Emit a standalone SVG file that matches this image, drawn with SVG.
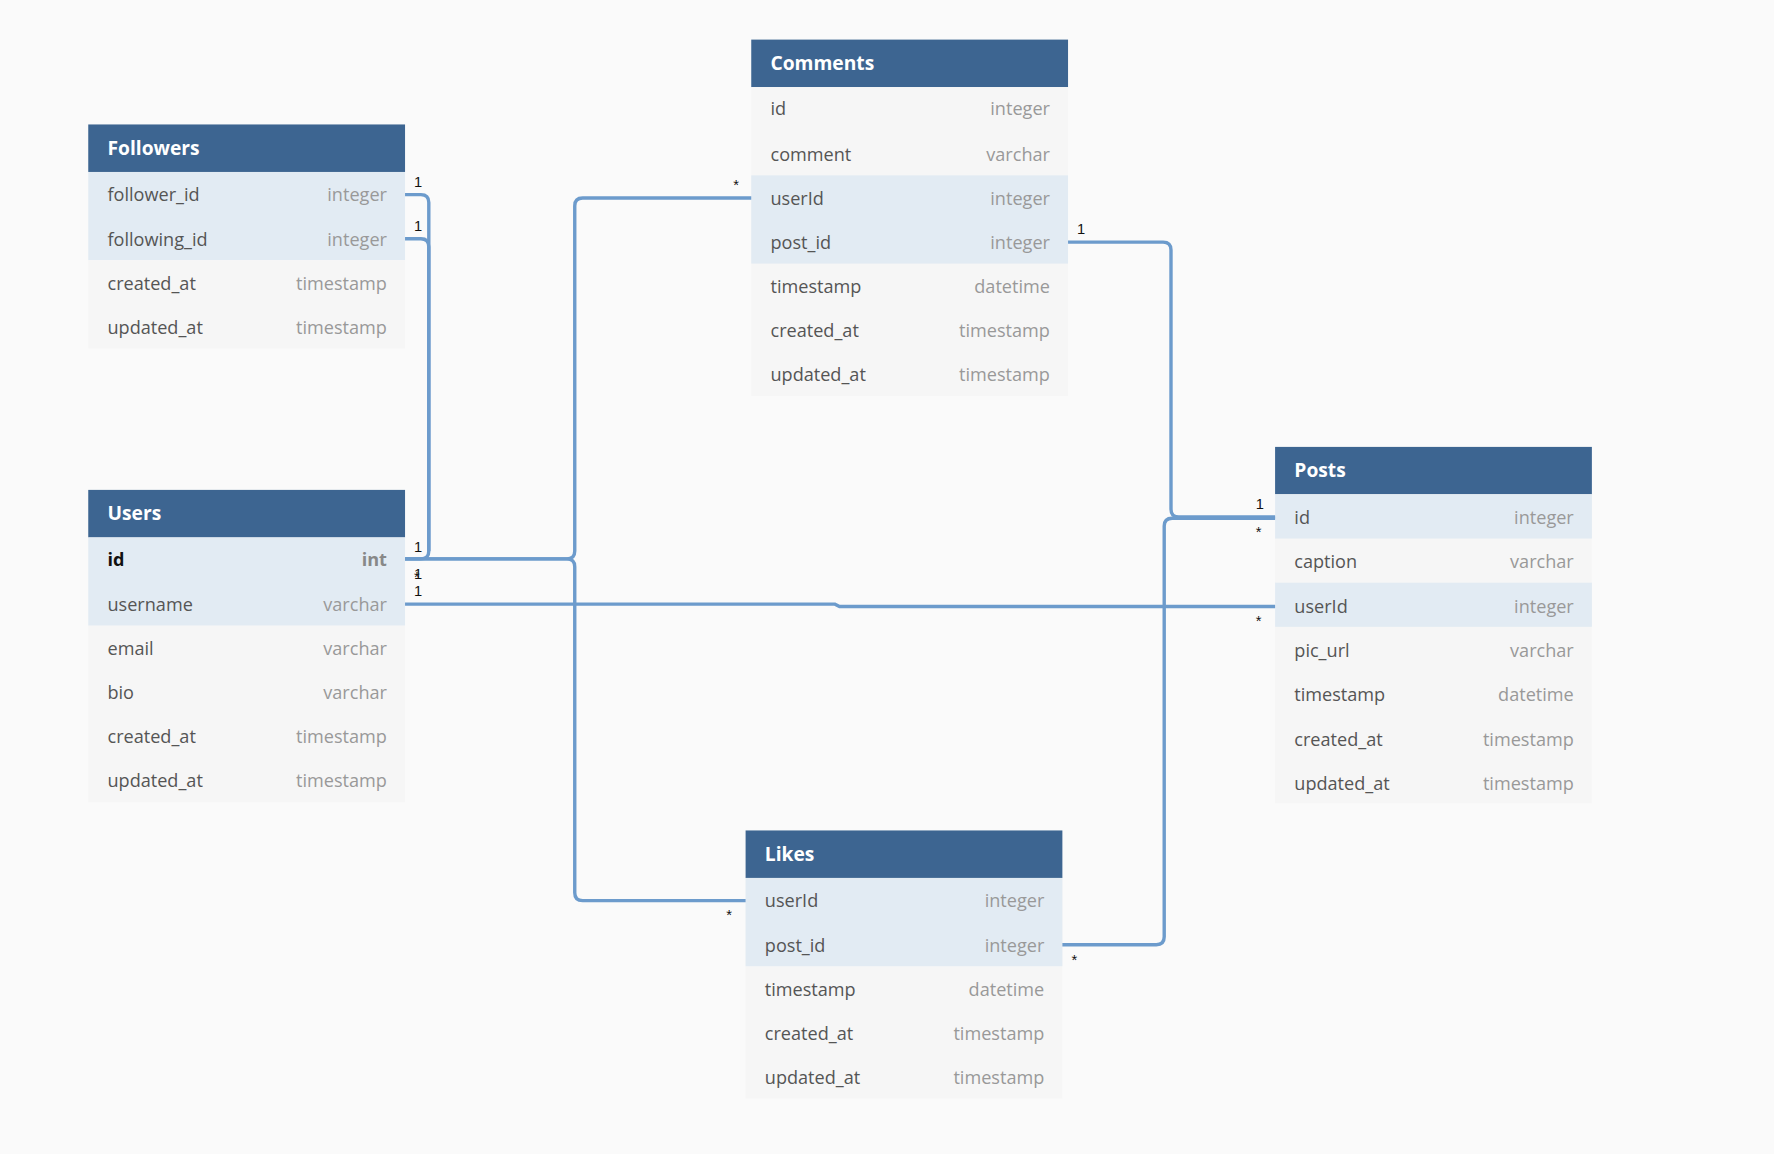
<svg xmlns="http://www.w3.org/2000/svg" width="1774" height="1154" viewBox="0 0 1774 1154">
<style>
.bg{fill:#fafafa}
.hd{fill:#3d6591}
.ht{fill:#fff;font:bold 17px "Open Sans",sans-serif}
.r{fill:#f6f6f6}
.h{fill:#e2ebf3}
.n{fill:#555;font:16px "Open Sans",sans-serif}
.t{fill:#999;font:16px "Open Sans",sans-serif;text-anchor:end}
.k{fill:#111;font:bold 16px "Open Sans",sans-serif}
.kt{fill:#888;font:bold 16px "Open Sans",sans-serif;text-anchor:end}
.c{fill:none;stroke:#6c9bcc;stroke-width:3}
.l{fill:#111;font:13px "Liberation Sans",sans-serif}
</style>
<rect class="bg" width="1774" height="1154"/>
<g transform="scale(1.1314)">
<g id="followers">
<rect class="hd" x="78" y="110" width="280" height="42"/><text class="ht" x="95" y="137">Followers</text>
<rect class="h" x="78" y="152" width="280" height="78"/><rect class="r" x="78" y="230" width="280" height="78"/>
<text class="n" x="95" y="178">follower_id</text><text class="t" x="342" y="178">integer</text>
<text class="n" x="95" y="217">following_id</text><text class="t" x="342" y="217">integer</text>
<text class="n" x="95" y="256">created_at</text><text class="t" x="342" y="256">timestamp</text>
<text class="n" x="95" y="295">updated_at</text><text class="t" x="342" y="295">timestamp</text>
</g>
<g id="users">
<rect class="hd" x="78" y="433" width="280" height="42"/><text class="ht" x="95" y="460">Users</text>
<rect class="h" x="78" y="475" width="280" height="78"/><rect class="r" x="78" y="553" width="280" height="156"/>
<text class="k" x="95" y="500">id</text><text class="kt" x="342" y="500">int</text>
<text class="n" x="95" y="540">username</text><text class="t" x="342" y="540">varchar</text>
<text class="n" x="95" y="579">email</text><text class="t" x="342" y="579">varchar</text>
<text class="n" x="95" y="618">bio</text><text class="t" x="342" y="618">varchar</text>
<text class="n" x="95" y="657">created_at</text><text class="t" x="342" y="657">timestamp</text>
<text class="n" x="95" y="696">updated_at</text><text class="t" x="342" y="696">timestamp</text>
</g>
<g id="comments">
<rect class="hd" x="664" y="35" width="280" height="42"/><text class="ht" x="681" y="62">Comments</text>
<rect class="r" x="664" y="77" width="280" height="273"/><rect class="h" x="664" y="155" width="280" height="78"/>
<text class="n" x="681" y="102">id</text><text class="t" x="928" y="102">integer</text>
<text class="n" x="681" y="142">comment</text><text class="t" x="928" y="142">varchar</text>
<text class="n" x="681" y="181">userId</text><text class="t" x="928" y="181">integer</text>
<text class="n" x="681" y="220">post_id</text><text class="t" x="928" y="220">integer</text>
<text class="n" x="681" y="259">timestamp</text><text class="t" x="928" y="259">datetime</text>
<text class="n" x="681" y="298">created_at</text><text class="t" x="928" y="298">timestamp</text>
<text class="n" x="681" y="337">updated_at</text><text class="t" x="928" y="337">timestamp</text>
</g>
<g id="posts">
<rect class="hd" x="1127" y="395" width="280" height="42"/><text class="ht" x="1144" y="422">Posts</text>
<rect class="r" x="1127" y="437" width="280" height="273"/><rect class="h" x="1127" y="437" width="280" height="39"/><rect class="h" x="1127" y="515" width="280" height="39"/>
<text class="n" x="1144" y="463">id</text><text class="t" x="1391" y="463">integer</text>
<text class="n" x="1144" y="502">caption</text><text class="t" x="1391" y="502">varchar</text>
<text class="n" x="1144" y="542">userId</text><text class="t" x="1391" y="542">integer</text>
<text class="n" x="1144" y="581">pic_url</text><text class="t" x="1391" y="581">varchar</text>
<text class="n" x="1144" y="620">timestamp</text><text class="t" x="1391" y="620">datetime</text>
<text class="n" x="1144" y="659">created_at</text><text class="t" x="1391" y="659">timestamp</text>
<text class="n" x="1144" y="698">updated_at</text><text class="t" x="1391" y="698">timestamp</text>
</g>
<g id="likes">
<rect class="hd" x="659" y="734" width="280" height="42"/><text class="ht" x="676" y="761">Likes</text>
<rect class="r" x="659" y="776" width="280" height="195"/><rect class="h" x="659" y="776" width="280" height="78"/>
<text class="n" x="676" y="802">userId</text><text class="t" x="923" y="802">integer</text>
<text class="n" x="676" y="841">post_id</text><text class="t" x="923" y="841">integer</text>
<text class="n" x="676" y="880">timestamp</text><text class="t" x="923" y="880">datetime</text>
<text class="n" x="676" y="919">created_at</text><text class="t" x="923" y="919">timestamp</text>
<text class="n" x="676" y="958">updated_at</text><text class="t" x="923" y="958">timestamp</text>
</g>
<g id="connectors">
<path class="c" d="M358,172 H372 Q379,172 379,179 V487 Q379,494 372,494 H358"/>
<path class="c" d="M358,211 H372 Q379,211 379,218 V487"/>
<path class="c" d="M358,494 H501 Q508,494 508,487 V182 Q508,175 515,175 H664"/>
<path class="c" d="M358,494 H501 Q508,494 508,501 V789 Q508,796 515,796 H659"/>
<path class="c" d="M358,534 H738 L742,536 H1127"/>
<path class="c" d="M944,214 H1028 Q1035,214 1035,221 V450 Q1035,457 1042,457 H1127"/>
<path class="c" d="M939,835 H1022 Q1029,835 1029,828 V465 Q1029,458 1036,458 H1127"/>
<text class="l" x="366" y="165">1</text>
<text class="l" x="366" y="204">1</text>
<text class="l" x="366" y="488">1</text>
<text class="l" x="366" y="514">*</text>
<text class="l" x="366" y="512">1</text>
<text class="l" x="366" y="527">1</text>
<text class="l" x="648" y="168">*</text>
<text class="l" x="952" y="207">1</text>
<text class="l" x="1110" y="450">1</text>
<text class="l" x="1110" y="475">*</text>
<text class="l" x="1110" y="553">*</text>
<text class="l" x="642" y="813">*</text>
<text class="l" x="947" y="853">*</text>
</g>
</g>
</svg>
